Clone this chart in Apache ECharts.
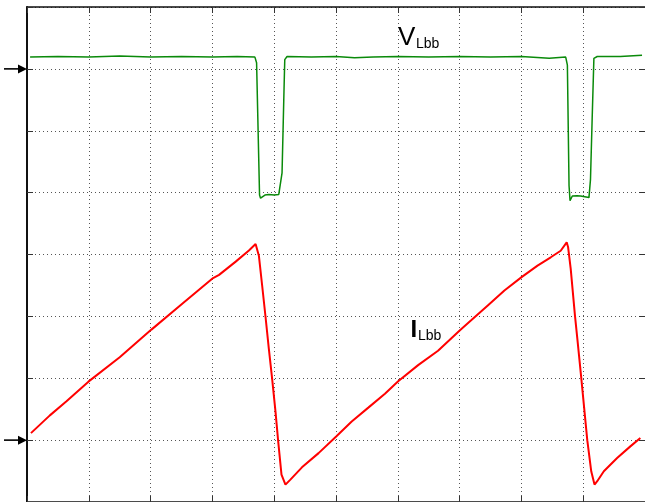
<!DOCTYPE html>
<html>
<head>
<meta charset="utf-8">
<script src="https://cdn.jsdelivr.net/npm/echarts@6/dist/echarts.min.js"></script>
<style>
  html, body { margin: 0; padding: 0; background: #ffffff; }
  #chart { width: 645px; height: 502px; }
</style>
</head>
<body>
<div id="chart"></div>
<script>
// Time axis in screen divisions (10 across), amplitude in divisions (8 high)
const xDivisions = 10;
const yDivisions = 8;

// Channel 1: switch-node voltage V_Lbb
const timeV = [0.05, 0.50, 1.00, 1.50, 2.00, 2.50, 3.00, 3.40, 3.688, 3.715, 3.763, 3.779, 3.85, 3.913, 4.00, 4.074, 4.090, 4.127, 4.155, 4.171, 4.208, 4.60, 5.00, 5.30, 5.60, 6.00, 6.50, 7.00, 7.50, 8.00, 8.45, 8.717, 8.744, 8.771, 8.787, 8.824, 8.90, 8.958, 9.093, 9.118, 9.146, 9.173, 9.227, 9.60, 9.952];
const valueV = [7.19, 7.20, 7.19, 7.21, 7.19, 7.20, 7.19, 7.20, 7.19, 7.10, 4.96, 4.91, 4.96, 4.97, 4.96, 4.97, 4.946, 5.32, 6.50, 7.15, 7.20, 7.19, 7.20, 7.18, 7.19, 7.20, 7.19, 7.20, 7.19, 7.20, 7.17, 7.19, 7.06, 5.11, 4.87, 4.946, 4.95, 4.946, 4.92, 5.215, 6.23, 7.17, 7.20, 7.20, 7.22];

// Channel 2: inductor current I_Lbb
const timeI = [0.064, 0.37, 0.639, 0.994, 1.50, 2.013, 2.512, 3.011, 3.108, 3.377, 3.591, 3.699, 3.752, 3.805, 3.860, 3.913, 3.966, 4.021, 4.063, 4.118, 4.182, 4.262, 4.449, 4.718, 5.003, 5.254, 5.523, 5.792, 6.006, 6.329, 6.651, 7.010, 7.187, 7.456, 7.725, 8.003, 8.261, 8.475, 8.636, 8.733, 8.756, 8.798, 8.868, 8.905, 8.969, 9.066, 9.130, 9.183, 9.227, 9.334, 9.549, 9.763, 9.925];
const valueI = [1.113, 1.40, 1.627, 1.945, 2.34, 2.786, 3.204, 3.620, 3.671, 3.885, 4.065, 4.169, 3.981, 3.499, 2.99, 2.48, 1.998, 1.462, 0.996, 0.442, 0.281, 0.362, 0.56, 0.79, 1.06, 1.301, 1.525, 1.750, 1.950, 2.212, 2.445, 2.780, 2.936, 3.177, 3.418, 3.634, 3.820, 3.955, 4.061, 4.197, 4.117, 3.767, 3.0, 2.64, 2.003, 1.0, 0.496, 0.281, 0.336, 0.496, 0.711, 0.899, 1.033];

// Ground reference markers on the left edge (division levels)
const groundLevels = [7, 1];

const pairs = (xs, ys) => xs.map((x, i) => [x, ys[i]]);

const chart = echarts.init(document.getElementById('chart'), null, { renderer: 'canvas' });

const gridDots = { show: true, lineStyle: { color: '#555', width: 1, type: [1, 3] } };
const borderAxis = (w) => ({ show: true, onZero: false, lineStyle: { color: '#111', width: w } });
const innerTick = { show: true, inside: true, length: 6, lineStyle: { color: '#333', width: 1 } };

chart.setOption({
  animation: false,
  backgroundColor: '#ffffff',
  grid: { left: 27, top: 7, width: 621, height: 497, containLabel: false },
  xAxis: [
    { type: 'value', min: 0, max: xDivisions, interval: 1, position: 'bottom',
      axisLine: borderAxis(1.5), axisTick: innerTick, axisLabel: { show: false }, splitLine: gridDots },
    { type: 'value', min: 0, max: xDivisions, interval: 1, position: 'top',
      axisLine: borderAxis(1.5), axisTick: innerTick, axisLabel: { show: false }, splitLine: { show: false } }
  ],
  yAxis: [
    { type: 'value', min: 0, max: yDivisions, interval: 1, position: 'left',
      axisLine: borderAxis(2), axisTick: innerTick, axisLabel: { show: false }, splitLine: gridDots },
    { type: 'value', min: 0, max: yDivisions, interval: 1, position: 'right',
      axisLine: { show: false, onZero: false }, axisTick: innerTick, axisLabel: { show: false }, splitLine: { show: false } }
  ],
  series: [
    { name: 'VLbb', type: 'line', data: pairs(timeV, valueV), showSymbol: false, smooth: false,
      lineStyle: { color: '#0a8a0a', width: 1.5 }, z: 3 },
    { name: 'ILbb', type: 'line', data: pairs(timeI, valueI), showSymbol: false, smooth: false,
      lineStyle: { color: '#ff0000', width: 2 }, z: 4 }
  ]
});

// Ground markers (arrows pointing at the left axis) and channel labels
const graphics = [];
const axisX = chart.convertToPixel({ xAxisIndex: 0 }, 0);
groundLevels.forEach((lvl) => {
  const y = chart.convertToPixel({ yAxisIndex: 0 }, lvl);
  graphics.push({ type: 'line', shape: { x1: axisX - 23, y1: y, x2: axisX - 6, y2: y },
    style: { stroke: '#000', lineWidth: 1.6 }, z: 10 });
  graphics.push({ type: 'polygon', shape: { points: [[axisX - 9, y - 4.5], [axisX, y], [axisX - 9, y + 4.5]] },
    style: { fill: '#000' }, z: 10 });
});

const font = 'Liberation Sans, Arial, sans-serif';
graphics.push(
  { type: 'text', x: 398, y: 38, style: { text: 'V', font: '26px ' + font, fill: '#000', verticalAlign: 'middle', align: 'left' }, z: 10 },
  { type: 'text', x: 416, y: 44, style: { text: 'Lbb', font: '14px ' + font, fill: '#000', verticalAlign: 'middle', align: 'left' }, z: 10 },
  { type: 'text', x: 410.5, y: 330, style: { text: 'I', font: 'bold 24px ' + font, fill: '#000', verticalAlign: 'middle', align: 'left' }, z: 10 },
  { type: 'text', x: 418, y: 336, style: { text: 'Lbb', font: '14px ' + font, fill: '#000', verticalAlign: 'middle', align: 'left' }, z: 10 }
);

chart.setOption({ graphic: graphics });
</script>
</body>
</html>
